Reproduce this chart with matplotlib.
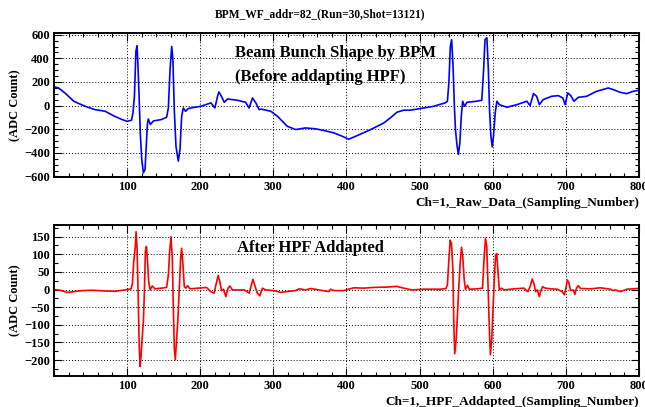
import matplotlib.pyplot as plt
from matplotlib.ticker import MultipleLocator
import numpy as np

# Raw waveform (sample number, ADC count)
raw_x = [0, 6, 15, 27, 34, 45, 56, 70, 81, 93, 100, 106, 108, 110, 112, 113.6, 114.5,
         116.4, 118, 120, 122.3, 124.5, 126.4, 127.7, 129, 131.8, 136, 147, 154, 156.4,
         158.7, 161, 162.6, 164.5, 166.8, 170, 172.3, 174.6, 176.8, 180, 183.6, 192.7,
         201, 214.6, 220, 223.7, 225.5, 229, 232.8, 237.4, 251, 262, 266.8, 271.5, 276,
         280.5, 283.7, 296.5, 305.6, 319, 330.5, 344, 358, 369, 382.8, 394, 403, 414.7,
         433, 451, 460, 469, 478, 487, 501, 519, 535, 538, 540, 542, 543.8, 545.7, 547.5,
         549, 551, 553, 555, 557, 558.8, 561.5, 564.8, 578, 585, 587.5, 589.4, 592, 594,
         595.6, 597.5, 599.3, 601, 603.4, 605.7, 609, 619.4, 633, 646.6, 651, 655.7, 660,
         663.8, 669, 680.7, 689.8, 695.8, 699, 702.6, 706.7, 711, 717, 728.5, 742, 758,
         765, 774, 783, 792, 800]
raw_y = [160, 150, 107, 37, 17, -11, -34, -48, -85, -118, -133, -124, -62, 79, 459, 507, 389,
         79, -231, -456, -569, -541, -316, -160, -113, -160, -130, -118, -99, -20,
         304, 501, 389, -34, -344, -470, -372, -90, -20, -48, -25, -14,
         -6, 23, -20, 79, 116, 79, 28, 56, 45, 28, -20, 65, 23,
         -34, -30, -48, -90, -175, -203, -189, -197, -211, -231, -259, -285, -254,
         -203, -147, -104, -56, -39, -39, -25, -6, 23, 37, 192, 501, 558, 332, 0,
         -203, -330, -414, -316, -90, 37, -6, 28, 37, 45, 304, 558, 575, 304,
         -34, -259, -350, -259, -62, 37, 8, -14, 8, 37, 0, 101, 79,
         8, 51, 79, 84, 65, 8, 107, 84, 37, 70, 79, 121, 149,
         135, 113, 101, 121, 130]

# After high-pass filter
hpf_x = [0, 8.6, 17.7, 26.8, 38, 52, 70, 83.6, 97, 105.5, 107.3, 109, 111, 112.3, 113.6,
         115, 116.4, 117.7, 119, 120.4, 122.3, 123.6, 125, 126.4, 127.7, 129.5, 131.4,
         134.5, 138, 147, 154, 156.4, 158.2, 160, 161.8, 163.2, 164.5, 165.9, 167.7,
         169.5, 171.3, 173.2, 174.5, 176.4, 178.2, 180.4, 182.7, 186, 197.3, 208.6,
         214.5, 219, 221.4, 224.5, 226.8, 229, 231.8, 235, 238, 240.5, 244, 255.5, 260,
         267, 270, 272, 274.5, 278, 281.4, 285, 289.5, 301, 310, 321, 330.5, 335, 344,
         351, 364.5, 376, 378, 383, 396, 410, 423.6, 437, 455.5, 469, 478, 489.5, 505.5,
         529, 536, 538, 540, 541.8, 543.6, 545.5, 546.8, 548, 550, 551.8, 553.6, 555.5,
         557.3, 559, 561, 562.7, 565.5, 568, 579, 586, 588, 590, 591.8, 593.6, 595.5,
         596.8, 598.6, 600.5, 602.3, 604, 605.5, 607.3, 609, 612, 615.5, 629, 642.7, 648,
         651, 654, 656.4, 658.6, 661, 663.6, 665.5, 668, 672, 679, 688, 695, 698, 700,
         702, 704, 706.4, 710, 712.3, 714.5, 717, 720, 733.6, 747, 761, 764.5, 767.7,
         774.5, 783.6, 800]
hpf_y = [0, -2, -8, -6, -3, -2, -4, -5, -1, 2, 18, 79, 117, 164, 117,
         -6, -147, -218, -190, -142, -90, -6, 108, 122, 89, 23, -1,
         10, 2, 4, 6, 41, 108, 150, 89, -53, -166, -199, -142,
         -81, 4, 89, 117, 70, 8, 4, 11, 2, 4, 6,
         -6, -10, 13, 40, 23, -3, 1, -20, 4, 10, -1, -1, -1,
         -10, 13, 29, 13, -10, -18, 4, -1, -3, -8, -5, -3, 2, -1,
         3, -2, -6, 1, -3, -3, 5, 4, 6, 7, 9, 4, -1, 1,
         1, 3, 13, 84, 140, 131, 56, -105, -182, -142, -67, 8, 75,
         120, 93, 27, 1, 12, 1, 2, 4, 84, 145, 122, 8, -123,
         -185, -142, -48, 37, 98, 102, 46, -1, 4, -1, 2, 4, -6,
         8, 30, 16, -6, -1, -20, -6, 8, 4, 2, 1, -6, -15, 4,
         27, 20, -3, -1, -14, 4, 11, 3, 2, 5, 1, -3, -1,
         -6, 1, 3]

plt.rcParams['font.family'] = ['Liberation Serif', 'DejaVu Serif']
plt.rcParams['font.weight'] = 'bold'

fig = plt.figure(figsize=(6.45, 4.07), dpi=100)
ax1 = fig.add_axes([0.0837, 0.565, 0.907, 0.354])
ax2 = fig.add_axes([0.0837, 0.0762, 0.907, 0.371])

ax1.plot(raw_x, raw_y, color='#0000ff', lw=1.2)
ax2.plot(hpf_x, hpf_y, color='#ff0000', lw=1.2)

ax1.set_ylim(-605, 615)
ax1.set_yticks(np.arange(-600, 601, 200))
ax1.yaxis.set_minor_locator(MultipleLocator(50))
ax2.set_ylim(-245, 183)
ax2.set_yticks(np.arange(-200, 151, 50))
ax2.yaxis.set_minor_locator(MultipleLocator(25))

for ax in (ax1, ax2):
    ax.set_xlim(0, 800)
    ax.set_xticks(np.arange(100, 801, 100))
    ax.xaxis.set_minor_locator(MultipleLocator(20))
    ax.tick_params(which='both', direction='in', top=True, right=True,
                   labelsize=9, pad=3)
    ax.tick_params(which='major', length=6, width=0.8)
    ax.tick_params(which='minor', length=3, width=0.8)
    ax.grid(True, which='major', color='black', ls=(0, (1, 2)), lw=0.7)
    for s in ax.spines.values():
        s.set_linewidth(1.4)
    for lab in ax.get_xticklabels() + ax.get_yticklabels():
        lab.set_fontweight('bold')
    ax.set_ylabel('(ADC Count)', fontsize=9, fontweight='bold', labelpad=2)

ax1.set_xlabel('Ch=1,_Raw_Data_(Sampling_Number)', fontsize=9.5,
               fontweight='bold', loc='right', labelpad=3)
ax2.set_xlabel('Ch=1,_HPF_Addapted_(Sampling_Number)', fontsize=9.5,
               fontweight='bold', loc='right', labelpad=3)

ax1.text(0.31, 0.86, 'Beam Bunch Shape by BPM', transform=ax1.transAxes,
         fontsize=12, fontweight='bold', va='center')
ax1.text(0.31, 0.694, '(Before addapting HPF)', transform=ax1.transAxes,
         fontsize=12, fontweight='bold', va='center')
ax2.text(0.313, 0.848, 'After HPF Addapted', transform=ax2.transAxes,
         fontsize=12, fontweight='bold', va='center')

fig.text(0.497, 0.965, 'BPM_WF_addr=82_(Run=30,Shot=13121)', ha='center',
         va='center', fontsize=8.3, fontweight='bold')

fig.savefig('out.png', dpi=100)
